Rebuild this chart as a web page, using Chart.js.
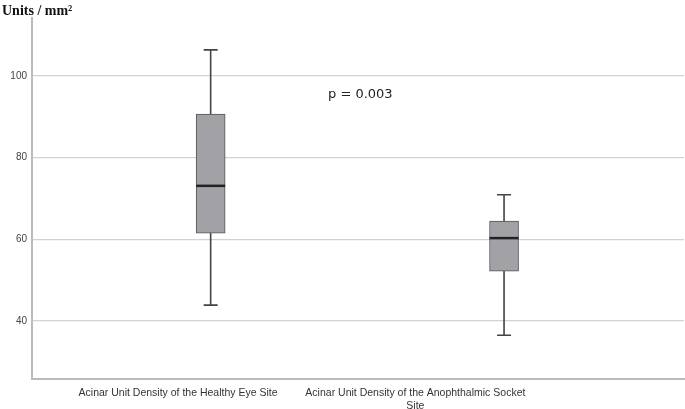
<!DOCTYPE html>
<html>
<head>
<meta charset="utf-8">
<script src="https://cdn.jsdelivr.net/npm/chart.js@4"></script>
<style>
  html, body { margin: 0; padding: 0; background: #fff; }
  #wrap { width: 685px; height: 409px; }
</style>
</head>
<body>
<div id="wrap"><canvas id="boxChart"></canvas></div>
<script>
// categories and five-number summaries
const categories = [
    'Acinar Unit Density of the Healthy Eye Site',
    ['Acinar Unit Density of the Anophthalmic Socket', 'Site']
];
const whiskerLow = [43.9, 36.5];
const q1Values = [61.5, 52.2];
const medians = [73.1, 60.3];
const q3Values = [90.7, 64.5];
const whiskerHigh = [106.4, 70.9];
const yTicks = [40, 60, 80, 100];

// layout (positions on a 0..1 x scale, as in the picture)
const boxSlots = [0.274, 0.724];
const labelSlots = [0.224, 0.588];

const boxData = categories.map((c, i) => ({ x: boxSlots[i], y: [q1Values[i], q3Values[i]] }));

// whiskers behind the boxes, medians on top
const boxExtras = {
    id: 'boxExtras',
    beforeDatasetsDraw(chart) {
        const ctx = chart.ctx, xs = chart.scales.x, ys = chart.scales.y;
        ctx.save();
        ctx.strokeStyle = '#444';
        ctx.lineWidth = 1.6;
        categories.forEach((c, i) => {
            const x = xs.getPixelForValue(boxSlots[i]);
            const lo = ys.getPixelForValue(whiskerLow[i]);
            const hi = ys.getPixelForValue(whiskerHigh[i]);
            ctx.beginPath();
            ctx.moveTo(x, lo); ctx.lineTo(x, hi);
            ctx.moveTo(x - 7, lo); ctx.lineTo(x + 7, lo);
            ctx.moveTo(x - 7, hi); ctx.lineTo(x + 7, hi);
            ctx.stroke();
        });
        ctx.restore();
    },
    afterDatasetsDraw(chart) {
        const ctx = chart.ctx, xs = chart.scales.x, ys = chart.scales.y;
        ctx.save();
        ctx.strokeStyle = '#222';
        ctx.lineWidth = 2.5;
        categories.forEach((c, i) => {
            const x = xs.getPixelForValue(boxSlots[i]);
            const m = ys.getPixelForValue(medians[i]);
            ctx.beginPath();
            ctx.moveTo(x - 14.5, m); ctx.lineTo(x + 14.5, m);
            ctx.stroke();
        });
        // y-axis unit at top left
        ctx.fillStyle = '#111';
        ctx.font = 'bold 14px "Liberation Serif", serif';
        ctx.textBaseline = 'alphabetic';
        ctx.fillText('Units / mm\u00B2', 2, 15);
        // p value annotation
        ctx.fillStyle = '#222';
        ctx.font = '13px "DejaVu Sans", sans-serif';
        ctx.textBaseline = 'middle';
        ctx.fillText('p = 0.003', 328, 95);
        ctx.restore();
    }
};

const ctx = document.getElementById('boxChart').getContext('2d');
new Chart(ctx, {
    type: 'bar',
    data: {
        datasets: [{
            data: boxData,
            backgroundColor: '#a2a2a6',
            borderColor: '#555',
            borderWidth: 1,
            borderSkipped: false,
            barThickness: 29
        }]
    },
    options: {
        responsive: true,
        maintainAspectRatio: false,
        animation: false,
        layout: { padding: { top: 18, right: 1, left: 0, bottom: 0 } },
        plugins: { legend: { display: false }, tooltip: { enabled: false } },
        scales: {
            x: {
                type: 'linear',
                min: 0,
                max: 1,
                offset: false,
                afterBuildTicks(scale) { scale.ticks = labelSlots.map(v => ({ value: v })); },
                afterFit(scale) { scale.height = 30; },
                ticks: {
                    autoSkip: false,
                    maxRotation: 0,
                    padding: 0,
                    color: '#333',
                    font: { family: '"Liberation Sans", sans-serif', size: 10.5 },
                    callback: (v, i) => categories[i]
                },
                grid: { display: false, offset: false },
                border: { color: '#bbb', width: 2 }
            },
            y: {
                min: 25.8,
                max: 114.2,
                afterBuildTicks(scale) { scale.ticks = yTicks.map(v => ({ value: v })); },
                afterFit(scale) { scale.width = 32; },
                ticks: {
                    padding: 5,
                    color: '#444',
                    font: { family: '"Liberation Sans", sans-serif', size: 10 }
                },
                grid: { color: '#d2d2d2', lineWidth: 1.2, drawTicks: false },
                border: { color: '#bbb', width: 2 }
            }
        }
    },
    plugins: [boxExtras]
});
</script>
</body>
</html>
